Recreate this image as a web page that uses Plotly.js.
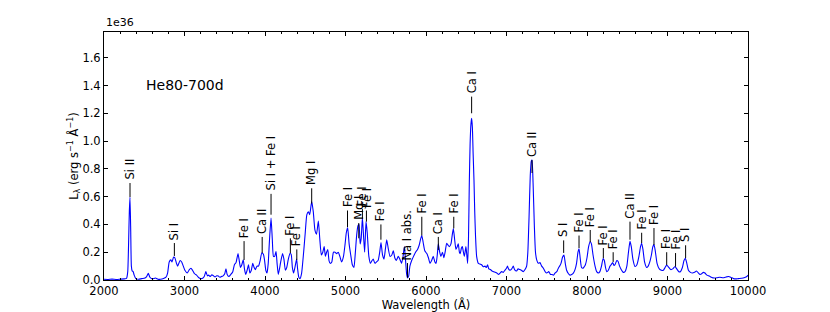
<!DOCTYPE html>
<html>
<head>
<meta charset="utf-8">
<script src="https://cdn.plot.ly/plotly-3.0.1.min.js"></script>
<style>
html,body{margin:0;padding:0;background:#fff;}
#chart{width:830px;height:312px;}
</style>
</head>
<body>
<div id="chart"></div>
<script>
// Spectrum: wavelength (Å) and L_lambda in units of 1e36 erg s^-1 Å^-1
const wavelength = [2000,2050,2100,2150,2200,2250,2280,2295,2305,2315,2323,2332,2340,2350,2362,2375,2395,2430,2470,2500,2530,2550,2570,2600,2640,2670,2700,2740,2770,2790,2810,2830,2845,2865,2880,2900,2915,2945,2965,2985,3005,3035,3060,3080,3100,3125,3150,3175,3200,3225,3245,3265,3285,3300,3320,3340,3360,3380,3400,3420,3440,3460,3480,3500,3515,3530,3550,3575,3600,3620,3640,3665,3680,3695,3712,3730,3745,3760,3778,3795,3812,3830,3848,3865,3880,3900,3920,3940,3960,3980,3995,4010,4025,4040,4055,4075,4090,4105,4120,4137,4150,4165,4180,4195,4218,4235,4253,4270,4290,4310,4325,4340,4355,4375,4393,4405,4420,4435,4455,4480,4500,4520,4540,4555,4580,4600,4620,4640,4663,4680,4700,4718,4735,4750,4765,4780,4795,4810,4830,4850,4870,4890,4910,4930,4952,4975,4995,5010,5027,5045,5065,5085,5105,5120,5140,5155,5168,5182,5195,5210,5225,5238,5255,5270,5290,5310,5330,5345,5365,5385,5405,5425,5441,5460,5478,5495,5512,5530,5553,5575,5594,5612,5630,5656,5675,5697,5715,5731,5745,5760,5772,5785,5800,5822,5845,5870,5895,5915,5935,5948,5965,5985,6010,6030,6050,6070,6090,6110,6125,6140,6153,6170,6185,6205,6222,6240,6257,6275,6290,6310,6325,6340,6356,6372,6388,6401,6415,6425,6440,6451,6465,6476,6488,6496,6507,6517,6528,6538,6548,6558,6567,6576,6586,6596,6605,6615,6629,6650,6670,6691,6712,6732,6750,6765,6780,6800,6820,6840,6860,6880,6902,6920,6940,6960,6980,7000,7012,7025,7042,7065,7084,7100,7125,7145,7166,7185,7208,7230,7250,7265,7280,7295,7308,7317,7330,7346,7360,7375,7395,7416,7437,7458,7480,7500,7525,7545,7565,7585,7602,7625,7644,7660,7677,7697,7714,7730,7747,7770,7789,7810,7830,7851,7870,7888,7901,7915,7932,7950,7965,7980,8000,8020,8040,8055,8075,8100,8120,8141,8160,8180,8200,8215,8230,8245,8265,8286,8300,8319,8335,8348,8370,8385,8405,8430,8450,8472,8495,8515,8534,8550,8570,8596,8620,8645,8665,8679,8695,8715,8741,8760,8780,8800,8818,8832,8848,8870,8898,8925,8948,8970,8990,9010,9040,9065,9093,9115,9140,9160,9185,9205,9222,9240,9260,9285,9310,9335,9360,9385,9404,9425,9445,9465,9490,9520,9550,9580,9615,9650,9690,9730,9760,9790,9820,9850,9880,9920,9960,9985,10000];
const luminosity = [0.005,0.004,0.006,0.004,0.006,0.008,0.012,0.06,0.25,0.5,0.595,0.35,0.1,0.065,0.06,0.035,0.01,0.005,0.01,0.012,0.025,0.048,0.02,0.008,0.014,0.006,0.005,0.01,0.02,0.05,0.13,0.145,0.13,0.165,0.16,0.12,0.1,0.14,0.13,0.1,0.07,0.05,0.075,0.085,0.07,0.045,0.035,0.018,0.01,0.012,0.025,0.06,0.03,0.035,0.025,0.038,0.03,0.022,0.03,0.028,0.02,0.025,0.03,0.045,0.08,0.04,0.025,0.04,0.06,0.11,0.125,0.19,0.14,0.09,0.11,0.145,0.08,0.04,0.07,0.11,0.05,0.07,0.12,0.09,0.075,0.1,0.1,0.14,0.195,0.185,0.14,0.07,0.05,0.12,0.28,0.445,0.3,0.17,0.17,0.205,0.12,0.04,0.08,0.13,0.19,0.15,0.07,0.09,0.15,0.19,0.185,0.09,0.05,0.1,0.15,0.08,0.02,0.01,0.05,0.2,0.34,0.47,0.49,0.47,0.565,0.49,0.36,0.33,0.425,0.3,0.18,0.2,0.24,0.17,0.2,0.22,0.14,0.12,0.13,0.2,0.2,0.19,0.2,0.17,0.13,0.17,0.26,0.34,0.375,0.26,0.18,0.11,0.09,0.18,0.33,0.39,0.4,0.26,0.3,0.45,0.31,0.2,0.42,0.34,0.17,0.12,0.14,0.15,0.12,0.13,0.14,0.2,0.27,0.18,0.15,0.22,0.29,0.23,0.17,0.18,0.21,0.16,0.14,0.17,0.15,0.12,0.17,0.24,0.15,0.04,0.015,0.03,0.1,0.14,0.17,0.2,0.22,0.25,0.3,0.32,0.27,0.21,0.19,0.16,0.12,0.14,0.17,0.13,0.12,0.18,0.26,0.2,0.17,0.2,0.16,0.21,0.265,0.25,0.24,0.26,0.32,0.37,0.29,0.22,0.24,0.26,0.2,0.19,0.23,0.24,0.2,0.17,0.21,0.24,0.18,0.12,0.3,0.7,0.98,1.12,1.163,1.1,0.9,0.72,0.5,0.32,0.17,0.12,0.115,0.11,0.095,0.1,0.09,0.11,0.08,0.075,0.065,0.06,0.055,0.05,0.04,0.05,0.06,0.055,0.07,0.085,0.1,0.08,0.07,0.08,0.1,0.075,0.065,0.08,0.075,0.07,0.06,0.075,0.1,0.2,0.45,0.75,0.855,0.863,0.7,0.39,0.2,0.145,0.12,0.125,0.1,0.085,0.06,0.05,0.06,0.04,0.04,0.035,0.05,0.06,0.085,0.1,0.12,0.165,0.18,0.12,0.07,0.045,0.035,0.04,0.05,0.075,0.12,0.2,0.225,0.16,0.09,0.085,0.095,0.11,0.16,0.24,0.275,0.26,0.18,0.1,0.06,0.05,0.06,0.1,0.155,0.14,0.09,0.06,0.07,0.1,0.11,0.125,0.105,0.11,0.14,0.135,0.1,0.07,0.055,0.06,0.1,0.2,0.278,0.24,0.15,0.097,0.11,0.17,0.24,0.265,0.22,0.13,0.09,0.1,0.13,0.18,0.24,0.255,0.21,0.12,0.08,0.07,0.07,0.09,0.108,0.095,0.075,0.08,0.097,0.08,0.06,0.06,0.09,0.14,0.156,0.12,0.07,0.055,0.05,0.055,0.065,0.05,0.04,0.045,0.055,0.05,0.035,0.028,0.018,0.014,0.016,0.02,0.016,0.022,0.025,0.018,0.01,0.008,0.01,0.012,0.018,0.025,0.035];

// Line identifications
const labelText = ["Si II","Si I","Fe I","Ca II","Si I + Fe I","Fe I","Fe I","Mg I","Fe I","Mg I","Fe I","Fe I","Fe I","Na I abs.","Fe I","Ca I","Fe I","Ca I","Ca II","S I","Fe I","Fe I","Fe I","Fe I","Ca II","Fe I","Fe I","Fe I","Fe I","S I"];
const labelX = [2323,2874,3740,3965,4075,4315,4395,4580,5025,5165,5210,5260,5440,5770,5948,6153,6345,6567,7317,7710,7901,8040,8203,8325,8534,8679,8832,8990,9100,9225];
const labelBottom = [0.597,0.173,0.144,0.195,0.47,0.194,0.144,0.55,0.38,0.30,0.44,0.42,0.29,0.017,0.32,0.216,0.372,1.2,0.77,0.195,0.23,0.273,0.158,0.13,0.29,0.266,0.252,0.108,0.096,0.158];
const labelTop = [0.698,0.266,0.28,0.31,0.62,0.30,0.22,0.66,0.50,0.41,0.51,0.50,0.40,0.122,0.455,0.31,0.455,1.32,0.863,0.285,0.32,0.36,0.23,0.20,0.42,0.34,0.374,0.20,0.194,0.25];

const modelName = "He80-700d";
const xTicks = [2000,3000,4000,5000,6000,7000,8000,9000,10000];
const yTicks = [0.0,0.2,0.4,0.6,0.8,1.0,1.2,1.4,1.6];

const lineX = [], lineY = [];
labelX.forEach((x, i) => { lineX.push(x, x, null); lineY.push(labelBottom[i], labelTop[i], null); });

const FONT = "DejaVu Sans, Liberation Sans, sans-serif";

const traces = [
  {x: wavelength, y: luminosity, type: 'scatter', mode: 'lines',
   line: {color: '#0000ff', width: 1.1, shape: 'spline', smoothing: 0.5}, hoverinfo: 'skip'},
  {x: lineX, y: lineY, type: 'scatter', mode: 'lines',
   line: {color: '#000000', width: 1}, hoverinfo: 'skip'}
];

const annotations = labelText.map((t, i) => ({
  x: labelX[i], y: labelTop[i], xref: 'x', yref: 'y', text: t, showarrow: false,
  textangle: -90, xanchor: 'center', yanchor: 'bottom', yshift: 1,
  font: {family: FONT, size: 11.5, color: '#000'}
}));
annotations.push({x: 2500, y: 1.40, xref: 'x', yref: 'y', text: modelName, showarrow: false,
  xanchor: 'left', yanchor: 'middle', font: {family: FONT, size: 14, color: '#000'}});
annotations.push({x: 0, y: 1, xref: 'paper', yref: 'paper', text: '1e36', showarrow: false,
  xanchor: 'left', yanchor: 'bottom', yshift: 1, font: {family: FONT, size: 11, color: '#000'}});

const layout = {
  width: 830, height: 312,
  margin: {l: 104, r: 82, t: 32, b: 32, pad: 0},
  paper_bgcolor: '#fff', plot_bgcolor: '#fff',
  showlegend: false,
  font: {family: FONT, size: 11, color: '#000'},
  xaxis: {
    range: [2000, 10000], tickvals: xTicks, ticktext: xTicks.map(String),
    ticks: 'inside', ticklen: 4, tickwidth: 1, tickcolor: '#000',
    showline: true, linecolor: '#000', linewidth: 1, mirror: 'ticks',
    showgrid: false, zeroline: false,
    minor: {dtick: 200, ticks: 'inside', ticklen: 2, tickcolor: '#000', showgrid: false},
    tickfont: {family: FONT, size: 11.5, color: '#000'},
    title: {text: 'Wavelength (Å)', font: {family: FONT, size: 11.5, color: '#000'}, standoff: 4}
  },
  yaxis: {
    range: [0, 1.785], tickvals: yTicks, ticktext: yTicks.map(v => v.toFixed(1)),
    ticks: 'inside', ticklen: 4, tickwidth: 1, tickcolor: '#000',
    showline: true, linecolor: '#000', linewidth: 1, mirror: 'ticks',
    showgrid: false, zeroline: false,
    tickfont: {family: FONT, size: 11.5, color: '#000'},
    title: {text: 'L<sub>λ</sub> (erg s<sup>−1</sup> Å<sup>−1</sup>)', font: {family: FONT, size: 11.5, color: '#000'}, standoff: 0}
  },
  annotations: annotations
};

Plotly.newPlot('chart', traces, layout, {staticPlot: true, displayModeBar: false});
</script>
</body>
</html>
